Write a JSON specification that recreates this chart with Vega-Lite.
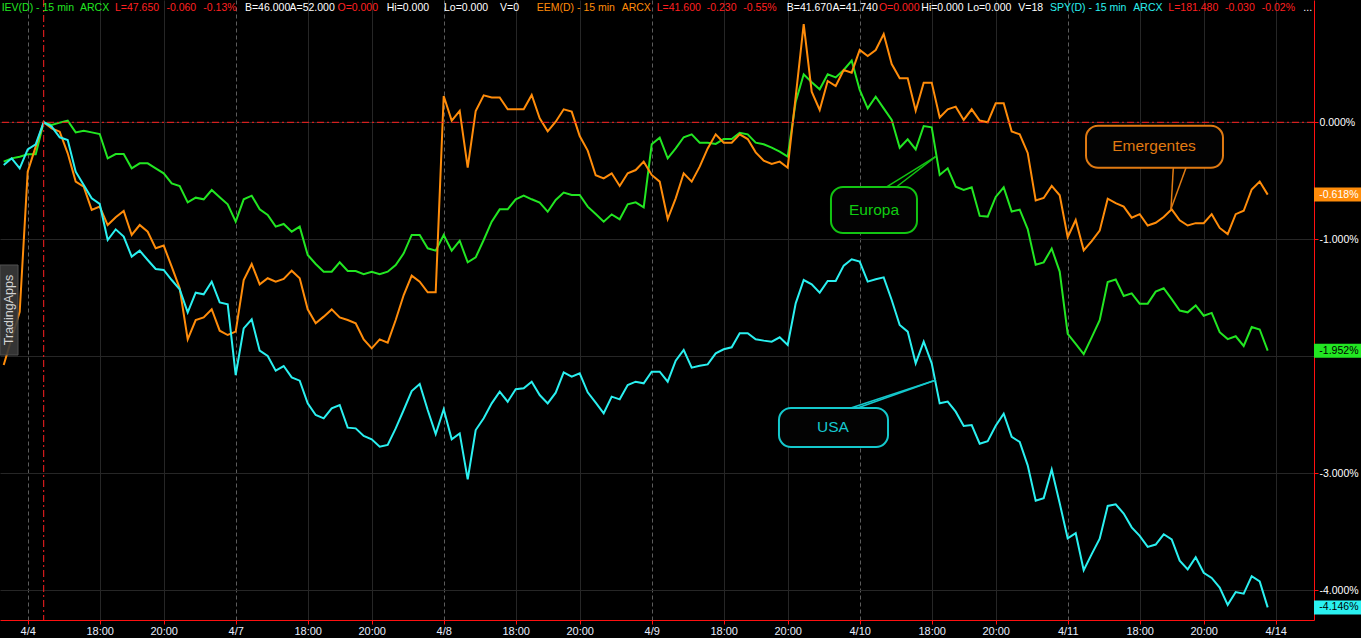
{
  "$schema": "https://vega.github.io/schema/vega-lite/v6.json",
  "width": 1314,
  "height": 620,
  "padding": {"left": 0, "top": 0, "right": 47, "bottom": 18},
  "autosize": {"type": "none"},
  "background": "#000000",
  "config": {
    "view": {"stroke": null},
    "locale": {"number": {"decimal": ".", "thousands": ",", "grouping": [3], "currency": ["$", ""], "minus": "-"}}
  },
  "datasets": {
    "series": [
      {"i":-3,"IEV":-0.336,"EEM":-2.074,"SPY":-0.365},
      {"i":-2,"IEV":-0.308,"EEM":-1.846,"SPY":-0.308},
      {"i":-1,"IEV":-0.294,"EEM":-1.619,"SPY":-0.393},
      {"i":0,"IEV":-0.274,"EEM":-0.422,"SPY":-0.231},
      {"i":1,"IEV":-0.274,"EEM":-0.208,"SPY":-0.188},
      {"i":2,"IEV":0,"EEM":0,"SPY":0},
      {"i":3,"IEV":-0.023,"EEM":-0.052,"SPY":-0.037},
      {"i":4,"IEV":-0.003,"EEM":-0.080,"SPY":-0.128},
      {"i":5,"IEV":0.014,"EEM":-0.265,"SPY":-0.151},
      {"i":6,"IEV":-0.086,"EEM":-0.507,"SPY":-0.422},
      {"i":7,"IEV":-0.072,"EEM":-0.550,"SPY":-0.536},
      {"i":8,"IEV":-0.086,"EEM":-0.749,"SPY":-0.650},
      {"i":9,"IEV":-0.100,"EEM":-0.721,"SPY":-0.698},
      {"i":10,"IEV":-0.308,"EEM":-0.878,"SPY":-1.006},
      {"i":11,"IEV":-0.271,"EEM":-0.812,"SPY":-0.915},
      {"i":12,"IEV":-0.271,"EEM":-0.758,"SPY":-0.977},
      {"i":13,"IEV":-0.393,"EEM":-0.963,"SPY":-1.148},
      {"i":14,"IEV":-0.351,"EEM":-0.878,"SPY":-1.097},
      {"i":15,"IEV":-0.351,"EEM":-0.935,"SPY":-1.177},
      {"i":16,"IEV":-0.393,"EEM":-1.077,"SPY":-1.254},
      {"i":17,"IEV":-0.436,"EEM":-1.054,"SPY":-1.262},
      {"i":18,"IEV":-0.522,"EEM":-1.234,"SPY":-1.348},
      {"i":19,"IEV":-0.544,"EEM":-1.419,"SPY":-1.428},
      {"i":20,"IEV":-0.684,"EEM":-1.855,"SPY":-1.624},
      {"i":21,"IEV":-0.644,"EEM":-1.690,"SPY":-1.456},
      {"i":22,"IEV":-0.658,"EEM":-1.667,"SPY":-1.470},
      {"i":23,"IEV":-0.579,"EEM":-1.598,"SPY":-1.362},
      {"i":24,"IEV":-0.641,"EEM":-1.781,"SPY":-1.539},
      {"i":25,"IEV":-0.701,"EEM":-1.818,"SPY":-1.556},
      {"i":26,"IEV":-0.849,"EEM":-1.789,"SPY":-2.160},
      {"i":27,"IEV":-0.658,"EEM":-1.348,"SPY":-1.761},
      {"i":28,"IEV":-0.627,"EEM":-1.211,"SPY":-1.684},
      {"i":29,"IEV":-0.744,"EEM":-1.385,"SPY":-1.952},
      {"i":30,"IEV":-0.792,"EEM":-1.333,"SPY":-1.997},
      {"i":31,"IEV":-0.892,"EEM":-1.362,"SPY":-2.123},
      {"i":32,"IEV":-0.869,"EEM":-1.339,"SPY":-2.083},
      {"i":33,"IEV":-0.935,"EEM":-1.268,"SPY":-2.180},
      {"i":34,"IEV":-0.892,"EEM":-1.333,"SPY":-2.208},
      {"i":35,"IEV":-1.134,"EEM":-1.598,"SPY":-2.402},
      {"i":36,"IEV":-1.211,"EEM":-1.718,"SPY":-2.502},
      {"i":37,"IEV":-1.277,"EEM":-1.661,"SPY":-2.530},
      {"i":38,"IEV":-1.277,"EEM":-1.599,"SPY":-2.445},
      {"i":39,"IEV":-1.197,"EEM":-1.667,"SPY":-2.416},
      {"i":40,"IEV":-1.271,"EEM":-1.690,"SPY":-2.610},
      {"i":41,"IEV":-1.271,"EEM":-1.718,"SPY":-2.616},
      {"i":42,"IEV":-1.299,"EEM":-1.855,"SPY":-2.681},
      {"i":43,"IEV":-1.277,"EEM":-1.932,"SPY":-2.710},
      {"i":44,"IEV":-1.299,"EEM":-1.855,"SPY":-2.772},
      {"i":45,"IEV":-1.277,"EEM":-1.883,"SPY":-2.758},
      {"i":46,"IEV":-1.220,"EEM":-1.690,"SPY":-2.616},
      {"i":47,"IEV":-1.120,"EEM":-1.476,"SPY":-2.459},
      {"i":48,"IEV":-0.963,"EEM":-1.311,"SPY":-2.297},
      {"i":49,"IEV":-0.963,"EEM":-1.362,"SPY":-2.237},
      {"i":50,"IEV":-1.077,"EEM":-1.453,"SPY":-2.459},
      {"i":51,"IEV":-1.097,"EEM":-1.453,"SPY":-2.664},
      {"i":52,"IEV":-0.963,"EEM":0.225,"SPY":-2.453},
      {"i":53,"IEV":-1.097,"EEM":0.014,"SPY":-2.710},
      {"i":54,"IEV":-1.012,"EEM":0.097,"SPY":-2.659},
      {"i":55,"IEV":-1.197,"EEM":-0.388,"SPY":-3.052},
      {"i":56,"IEV":-1.154,"EEM":0.097,"SPY":-2.630},
      {"i":57,"IEV":-1.006,"EEM":0.230,"SPY":-2.530},
      {"i":58,"IEV":-0.849,"EEM":0.213,"SPY":-2.402},
      {"i":59,"IEV":-0.744,"EEM":0.213,"SPY":-2.302},
      {"i":60,"IEV":-0.744,"EEM":0.111,"SPY":-2.388},
      {"i":61,"IEV":-0.658,"EEM":0.111,"SPY":-2.282},
      {"i":62,"IEV":-0.627,"EEM":0.111,"SPY":-2.274},
      {"i":63,"IEV":-0.658,"EEM":0.233,"SPY":-2.217},
      {"i":64,"IEV":-0.687,"EEM":0.034,"SPY":-2.331},
      {"i":65,"IEV":-0.764,"EEM":-0.077,"SPY":-2.402},
      {"i":66,"IEV":-0.664,"EEM":0.005,"SPY":-2.311},
      {"i":67,"IEV":-0.601,"EEM":0.111,"SPY":-2.137},
      {"i":68,"IEV":-0.621,"EEM":0.091,"SPY":-2.174},
      {"i":69,"IEV":-0.621,"EEM":-0.117,"SPY":-2.145},
      {"i":70,"IEV":-0.721,"EEM":-0.242,"SPY":-2.308},
      {"i":71,"IEV":-0.784,"EEM":-0.453,"SPY":-2.396},
      {"i":72,"IEV":-0.849,"EEM":-0.479,"SPY":-2.487},
      {"i":73,"IEV":-0.787,"EEM":-0.436,"SPY":-2.345},
      {"i":74,"IEV":-0.829,"EEM":-0.544,"SPY":-2.368},
      {"i":75,"IEV":-0.701,"EEM":-0.436,"SPY":-2.246},
      {"i":76,"IEV":-0.684,"EEM":-0.408,"SPY":-2.217},
      {"i":77,"IEV":-0.727,"EEM":-0.336,"SPY":-2.231},
      {"i":78,"IEV":-0.188,"EEM":-0.450,"SPY":-2.131},
      {"i":79,"IEV":-0.131,"EEM":-0.507,"SPY":-2.131},
      {"i":80,"IEV":-0.308,"EEM":-0.827,"SPY":-2.217},
      {"i":81,"IEV":-0.223,"EEM":-0.650,"SPY":-2.037},
      {"i":82,"IEV":-0.128,"EEM":-0.436,"SPY":-1.946},
      {"i":83,"IEV":-0.103,"EEM":-0.507,"SPY":-2.097},
      {"i":84,"IEV":-0.174,"EEM":-0.379,"SPY":-2.080},
      {"i":85,"IEV":-0.174,"EEM":-0.223,"SPY":-2.069},
      {"i":86,"IEV":-0.185,"EEM":-0.103,"SPY":-1.975},
      {"i":87,"IEV":-0.143,"EEM":-0.174,"SPY":-1.940},
      {"i":88,"IEV":-0.143,"EEM":-0.174,"SPY":-1.923},
      {"i":89,"IEV":-0.089,"EEM":-0.103,"SPY":-1.803},
      {"i":90,"IEV":-0.103,"EEM":-0.143,"SPY":-1.803},
      {"i":91,"IEV":-0.174,"EEM":-0.257,"SPY":-1.855},
      {"i":92,"IEV":-0.188,"EEM":-0.328,"SPY":-1.866},
      {"i":93,"IEV":-0.217,"EEM":-0.356,"SPY":-1.875},
      {"i":94,"IEV":-0.251,"EEM":-0.336,"SPY":-1.838},
      {"i":95,"IEV":-0.294,"EEM":-0.388,"SPY":-1.903},
      {"i":96,"IEV":0.176,"EEM":0.219,"SPY":-1.547},
      {"i":97,"IEV":0.410,"EEM":0.840,"SPY":-1.348},
      {"i":98,"IEV":0.342,"EEM":0.262,"SPY":-1.385},
      {"i":99,"IEV":0.282,"EEM":0.105,"SPY":-1.456},
      {"i":100,"IEV":0.410,"EEM":0.353,"SPY":-1.356},
      {"i":101,"IEV":0.384,"EEM":0.310,"SPY":-1.356},
      {"i":102,"IEV":0.447,"EEM":0.447,"SPY":-1.225},
      {"i":103,"IEV":0.527,"EEM":0.424,"SPY":-1.171},
      {"i":104,"IEV":0.276,"EEM":0.618,"SPY":-1.191},
      {"i":105,"IEV":0.119,"EEM":0.566,"SPY":-1.362},
      {"i":106,"IEV":0.219,"EEM":0.618,"SPY":-1.342},
      {"i":107,"IEV":0.119,"EEM":0.755,"SPY":-1.325},
      {"i":108,"IEV":0.020,"EEM":0.498,"SPY":-1.519},
      {"i":109,"IEV":-0.217,"EEM":0.376,"SPY":-1.732},
      {"i":110,"IEV":-0.145,"EEM":0.376,"SPY":-1.789},
      {"i":111,"IEV":-0.231,"EEM":0.099,"SPY":-2.060},
      {"i":112,"IEV":-0.032,"EEM":0.339,"SPY":-1.875},
      {"i":113,"IEV":-0.043,"EEM":0.339,"SPY":-2.060},
      {"i":114,"IEV":-0.450,"EEM":0.042,"SPY":-2.402},
      {"i":115,"IEV":-0.393,"EEM":0.111,"SPY":-2.387},
      {"i":116,"IEV":-0.550,"EEM":0.134,"SPY":-2.473},
      {"i":117,"IEV":-0.579,"EEM":0.020,"SPY":-2.595},
      {"i":118,"IEV":-0.556,"EEM":0.111,"SPY":-2.587},
      {"i":119,"IEV":-0.800,"EEM":0.015,"SPY":-2.747},
      {"i":120,"IEV":-0.806,"EEM":0,"SPY":-2.726},
      {"i":121,"IEV":-0.638,"EEM":0.162,"SPY":-2.594},
      {"i":122,"IEV":-0.556,"EEM":0.162,"SPY":-2.491},
      {"i":123,"IEV":-0.762,"EEM":-0.079,"SPY":-2.688},
      {"i":124,"IEV":-0.747,"EEM":-0.103,"SPY":-2.732},
      {"i":125,"IEV":-0.912,"EEM":-0.262,"SPY":-2.932},
      {"i":126,"IEV":-1.218,"EEM":-0.668,"SPY":-3.235},
      {"i":127,"IEV":-1.197,"EEM":-0.647,"SPY":-3.212},
      {"i":128,"IEV":-1.079,"EEM":-0.544,"SPY":-2.968},
      {"i":129,"IEV":-1.276,"EEM":-0.624,"SPY":-3.256},
      {"i":130,"IEV":-1.809,"EEM":-0.982,"SPY":-3.556},
      {"i":131,"IEV":-1.894,"EEM":-0.835,"SPY":-3.512},
      {"i":132,"IEV":-1.982,"EEM":-1.094,"SPY":-3.829},
      {"i":133,"IEV":-1.838,"EEM":-1.015,"SPY":-3.691},
      {"i":134,"IEV":-1.691,"EEM":-0.926,"SPY":-3.559},
      {"i":135,"IEV":-1.365,"EEM":-0.653,"SPY":-3.279},
      {"i":136,"IEV":-1.344,"EEM":-0.691,"SPY":-3.265},
      {"i":137,"IEV":-1.485,"EEM":-0.721,"SPY":-3.344},
      {"i":138,"IEV":-1.462,"EEM":-0.815,"SPY":-3.462},
      {"i":139,"IEV":-1.550,"EEM":-0.785,"SPY":-3.535},
      {"i":140,"IEV":-1.550,"EEM":-0.882,"SPY":-3.629},
      {"i":141,"IEV":-1.447,"EEM":-0.859,"SPY":-3.609},
      {"i":142,"IEV":-1.418,"EEM":-0.809,"SPY":-3.521},
      {"i":143,"IEV":-1.512,"EEM":-0.744,"SPY":-3.565},
      {"i":144,"IEV":-1.609,"EEM":-0.838,"SPY":-3.747},
      {"i":145,"IEV":-1.624,"EEM":-0.882,"SPY":-3.821},
      {"i":146,"IEV":-1.565,"EEM":-0.862,"SPY":-3.718},
      {"i":147,"IEV":-1.653,"EEM":-0.862,"SPY":-3.850},
      {"i":148,"IEV":-1.629,"EEM":-0.785,"SPY":-3.894},
      {"i":149,"IEV":-1.794,"EEM":-0.903,"SPY":-3.976},
      {"i":150,"IEV":-1.853,"EEM":-0.956,"SPY":-4.124},
      {"i":151,"IEV":-1.829,"EEM":-0.785,"SPY":-4.015},
      {"i":152,"IEV":-1.912,"EEM":-0.756,"SPY":-4.029},
      {"i":153,"IEV":-1.750,"EEM":-0.574,"SPY":-3.879},
      {"i":154,"IEV":-1.771,"EEM":-0.506,"SPY":-3.924},
      {"i":155,"IEV":-1.952,"EEM":-0.618,"SPY":-4.146}
    ],
    "header": [
      {"t":"IEV(D) - 15 min","x":-3.25,"key":"IEV"},
      {"t":"ARCX","x":6.54,"key":"IEV"},
      {"t":"L=47.650","x":10.91,"key":"neg"},
      {"t":"-0.060","x":17.34,"key":"neg"},
      {"t":"-0.13%","x":21.95,"key":"neg"},
      {"t":"B=46.000","x":27.16,"key":"info"},
      {"t":"A=52.000","x":32.73,"key":"info"},
      {"t":"O=0.000","x":38.72,"key":"neg"},
      {"t":"Hi=0.000","x":44.88,"key":"info"},
      {"t":"Lo=0.000","x":52.04,"key":"info"},
      {"t":"V=0","x":59.04,"key":"info"},
      {"t":"EEM(D) - 15 min","x":63.63,"key":"EEM"},
      {"t":"ARCX","x":74.25,"key":"EEM"},
      {"t":"L=41.600","x":78.63,"key":"neg"},
      {"t":"-0.230","x":84.88,"key":"neg"},
      {"t":"-0.55%","x":89.45,"key":"neg"},
      {"t":"B=41.670","x":94.88,"key":"info"},
      {"t":"A=41.740","x":100.6,"key":"info"},
      {"t":"O=0.000","x":106.4,"key":"neg"},
      {"t":"Hi=0.000","x":111.7,"key":"info"},
      {"t":"Lo=0.000","x":117.45,"key":"info"},
      {"t":"V=18","x":123.83,"key":"info"},
      {"t":"SPY(D) - 15 min","x":127.79,"key":"SPY"},
      {"t":"ARCX","x":138.2,"key":"SPY"},
      {"t":"L=181.480","x":142.58,"key":"neg"},
      {"t":"-0.030","x":149.66,"key":"neg"},
      {"t":"-0.02%","x":154.25,"key":"neg"},
      {"t":"...","x":159.45,"key":"info"}
    ],
    "notes": [
      {"label":"Europa","key":"IEV","x1":100.41,"x2":111.16,"y1":-0.553,"y2":-0.946,"tx":105.79,"ty":-0.749},
      {"label":"USA","key":"SPY","x1":93.91,"x2":107.54,"y1":-2.442,"y2":-2.775,"tx":100.66,"ty":-2.604},
      {"label":"Emergentes","key":"EEM","x1":132.29,"x2":149.41,"y1":-0.029,"y2":-0.388,"tx":140.79,"ty":-0.206}
    ],
    "pointers": [
      {"key":"IEV","x1":107.37,"y1":-0.551,"x2":113.49,"y2":-0.294},
      {"key":"IEV","x1":108.62,"y1":-0.551,"x2":113.49,"y2":-0.294},
      {"key":"SPY","x1":102.79,"y1":-2.444,"x2":113.54,"y2":-2.2025},
      {"key":"SPY","x1":103.62,"y1":-2.444,"x2":113.54,"y2":-2.2025},
      {"key":"EEM","x1":143.2,"y1":-0.388,"x2":142.91,"y2":-0.741},
      {"key":"EEM","x1":144.79,"y1":-0.388,"x2":142.91,"y2":-0.741}
    ],
    "badge": [
      {"t":"TradingApps","x1":-3.4625,"x2":-1.21,"y1":-1.2197,"y2":-1.989,"tx":-2.34,"ty":-1.604}
    ]
  },
  "layer": [
    {
      "data": {"name": "series"},
      "transform": [{"fold": ["IEV", "EEM", "SPY"]}],
      "mark": {"type": "line", "strokeWidth": 2, "clip": true},
      "encoding": {
        "x": {
          "field": "i", "type": "quantitative",
          "scale": {"domain": [-3.4625, 160.7875], "nice": false, "zero": false},
          "axis": {
            "orient": "bottom",
            "values": [0,9,17,26,35,43,52,61,69,78,87,95,104,113,121,130,139,147,156],
            "labelExpr": "datum.value==0?'4/4':datum.value==26?'4/7':datum.value==52?'4/8':datum.value==78?'4/9':datum.value==104?'4/10':datum.value==130?'4/11':datum.value==156?'4/14':(datum.value%26==9?'18:00':'20:00')",
            "grid": true,
            "gridColor": {"condition": {"test": "datum.value%26==0 && datum.value<150", "value": "#5c5c5c"}, "value": "#262626"},
            "gridDash": {"condition": {"test": "datum.value%26==0 && datum.value<150", "value": [4, 3]}, "value": []},
            "domainColor": "#ff1010",
            "tickColor": "#ff1010",
            "tickSize": 4,
            "labelColor": "#e8eeff",
            "labelFont": "Liberation Sans",
            "labelFontSize": 11,
            "labelPadding": 1,
            "labelOverlap": false,
            "labelFlush": false,
            "labelBound": false,
            "title": null
          }
        },
        "y": {
          "field": "value", "type": "quantitative",
          "scale": {"domain": [-4.2538, 1.0453], "nice": false, "zero": false},
          "axis": {
            "orient": "right",
            "values": [0, -1, -2, -3, -4],
            "labelExpr": "datum.value == -2 ? '' : replace(format(datum.value, '.3f'), '\u2212', '-') + '%'",
            "grid": true,
            "gridColor": "#262626",
            "domainColor": "#ff1010",
            "tickColor": "#ff1010",
            "tickSize": 4,
            "labelColor": "#ffffff",
            "labelFont": "Liberation Sans",
            "labelFontSize": 10.5,
            "labelPadding": 1,
            "labelOverlap": false,
            "labelBound": false,
            "title": null
          }
        },
        "color": {
          "field": "key", "type": "nominal",
          "scale": {"domain": ["IEV", "EEM", "SPY", "neg", "info"], "range": ["#22e622", "#ff8c0a", "#2af0f0", "#ff2020", "#ffffff"]},
          "legend": null
        }
      }
    },
    {
      "data": {"values": [{}]},
      "mark": {"type": "rule", "color": "#ff2020", "strokeWidth": 1, "strokeDash": [7, 3, 2, 3]},
      "encoding": {"y": {"datum": 0, "type": "quantitative"}}
    },
    {
      "data": {"values": [{}]},
      "mark": {"type": "rule", "color": "#ff2020", "strokeWidth": 1, "strokeDash": [7, 3, 2, 3]},
      "encoding": {"x": {"datum": 2, "type": "quantitative"}}
    },
    {
      "data": {"name": "pointers"},
      "mark": {"type": "rule", "strokeWidth": 1.5},
      "encoding": {
        "x": {"field": "x1", "type": "quantitative"},
        "y": {"field": "y1", "type": "quantitative"},
        "x2": {"field": "x2"},
        "y2": {"field": "y2"},
        "stroke": {"field": "key", "type": "nominal", "scale": {"domain": ["IEV", "EEM", "SPY"], "range": ["#12c412", "#e07a12", "#14c8cc"]}, "legend": null}
      }
    },
    {
      "data": {"name": "notes"},
      "mark": {"type": "rect", "cornerRadius": 12, "fill": "#030303", "strokeWidth": 2},
      "encoding": {
        "x": {"field": "x1", "type": "quantitative"},
        "x2": {"field": "x2"},
        "y": {"field": "y1", "type": "quantitative"},
        "y2": {"field": "y2"},
        "stroke": {"field": "key", "type": "nominal", "scale": {"domain": ["IEV", "EEM", "SPY"], "range": ["#12c412", "#e07a12", "#14c8cc"]}, "legend": null}
      }
    },
    {
      "data": {"name": "notes"},
      "mark": {"type": "text", "font": "Liberation Sans", "fontSize": 15.5, "align": "center", "baseline": "middle"},
      "encoding": {
        "x": {"field": "tx", "type": "quantitative"},
        "y": {"field": "ty", "type": "quantitative"},
        "text": {"field": "label"},
        "fill": {"field": "key", "type": "nominal", "scale": {"domain": ["IEV", "EEM", "SPY"], "range": ["#10cc10", "#e07a12", "#16c8d0"]}, "legend": null}
      }
    },
    {
      "data": {"name": "badge"},
      "mark": {"type": "rect", "fill": "#3a3a3a", "stroke": "#5a5a5a", "strokeWidth": 1, "opacity": 0.9},
      "encoding": {
        "x": {"field": "x1", "type": "quantitative"},
        "x2": {"field": "x2"},
        "y": {"field": "y1", "type": "quantitative"},
        "y2": {"field": "y2"}
      }
    },
    {
      "data": {"name": "badge"},
      "mark": {"type": "text", "font": "Liberation Sans", "fontSize": 12.5, "angle": 270, "align": "center", "baseline": "middle", "color": "#d4d4d4"},
      "encoding": {
        "x": {"field": "tx", "type": "quantitative"},
        "y": {"field": "ty", "type": "quantitative"},
        "text": {"field": "t"}
      }
    },
    {
      "data": {"name": "series"},
      "transform": [{"filter": "datum.i == 155"}, {"fold": ["IEV", "EEM", "SPY"]}],
      "mark": {"type": "tick", "orient": "horizontal", "thickness": 14, "size": 47, "opacity": 1},
      "encoding": {
        "x": {"datum": 163.725, "type": "quantitative"},
        "y": {"field": "value", "type": "quantitative"},
        "color": {
          "field": "key", "type": "nominal",
          "scale": {"domain": ["IEV", "EEM", "SPY", "neg", "info"], "range": ["#22e622", "#ff8c0a", "#2af0f0", "#ff2020", "#ffffff"]},
          "legend": null
        }
      }
    },
    {
      "data": {"name": "series"},
      "transform": [
        {"filter": "datum.i == 155"},
        {"fold": ["IEV", "EEM", "SPY"]},
        {"calculate": "replace(format(datum.value, '.3f'), '\u2212', '-') + '%'", "as": "lbl"}
      ],
      "mark": {"type": "text", "font": "Liberation Sans", "fontSize": 10.5, "align": "center", "baseline": "middle"},
      "encoding": {
        "x": {"datum": 163.9, "type": "quantitative"},
        "y": {"field": "value", "type": "quantitative"},
        "text": {"field": "lbl"},
        "color": {"condition": {"test": "datum.key === 'EEM'", "value": "#ffffff"}, "value": "#000000"}
      }
    },
    {
      "data": {"name": "header"},
      "mark": {"type": "text", "font": "Liberation Sans", "fontSize": 10.5, "align": "left", "baseline": "middle"},
      "encoding": {
        "x": {"field": "x", "type": "quantitative"},
        "y": {"datum": 0.975, "type": "quantitative"},
        "text": {"field": "t"},
        "color": {
          "field": "key", "type": "nominal",
          "scale": {"domain": ["IEV", "EEM", "SPY", "neg", "info"], "range": ["#22e622", "#ff8c0a", "#2af0f0", "#ff2020", "#ffffff"]},
          "legend": null
        }
      }
    }
  ]
}
